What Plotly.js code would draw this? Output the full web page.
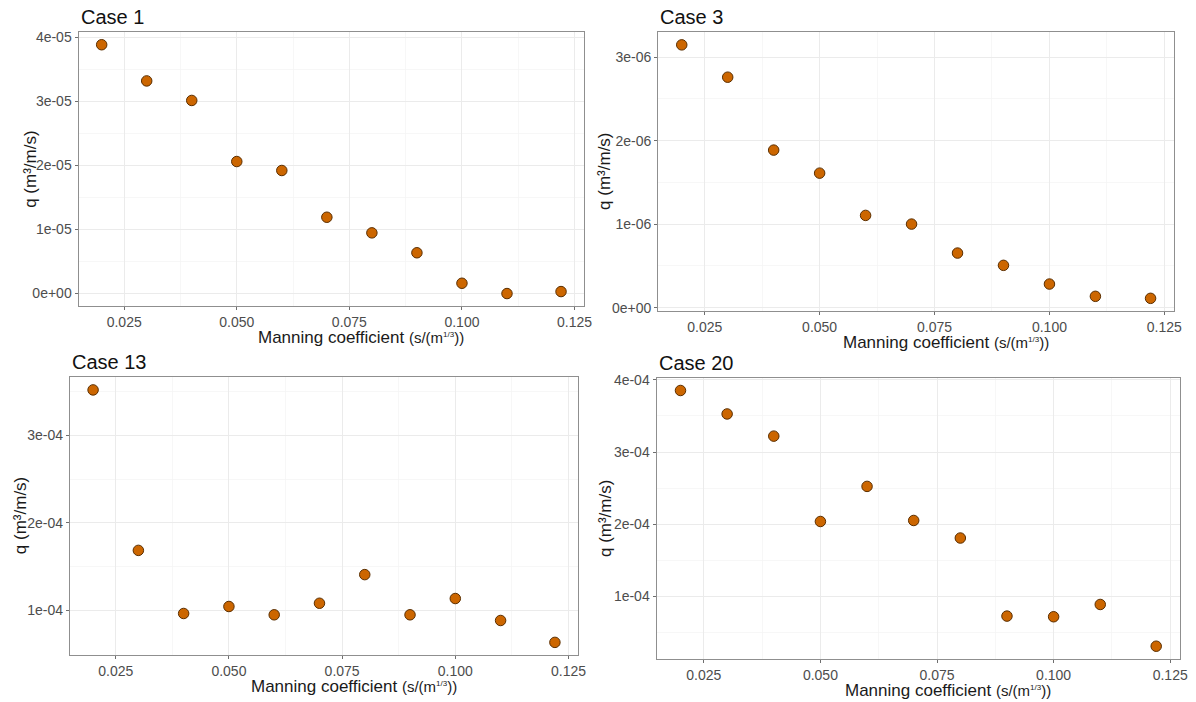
<!DOCTYPE html>
<html>
<head>
<meta charset="utf-8">
<script src="https://cdn.plot.ly/plotly-3.0.1.min.js"></script>
<style>
  html, body { margin: 0; padding: 0; background: #ffffff; }
  #chart { width: 1196px; height: 702px; }
</style>
</head>
<body>
<div id="chart"></div>
<script>
// Manning coefficient values tested in every case
const manning = [0.02, 0.03, 0.04, 0.05, 0.06, 0.07, 0.08, 0.09, 0.10, 0.11, 0.122];

// Unit discharge q (m³/m/s) for each case
const case1  = [3.886e-5, 3.321e-5, 3.016e-5, 2.062e-5, 1.922e-5, 1.192e-5, 0.948e-5, 0.637e-5, 0.161e-5, 0.0, 0.031e-5];
const case3  = [3.147e-6, 2.760e-6, 1.887e-6, 1.611e-6, 1.105e-6, 1.001e-6, 0.654e-6, 0.507e-6, 0.283e-6, 0.136e-6, 0.112e-6];
const case13 = [3.520e-4, 1.687e-4, 0.966e-4, 1.046e-4, 0.951e-4, 1.083e-4, 1.410e-4, 0.951e-4, 1.137e-4, 0.886e-4, 0.636e-4];
const case20 = [3.853e-4, 3.528e-4, 3.221e-4, 2.039e-4, 2.525e-4, 2.053e-4, 1.810e-4, 0.729e-4, 0.720e-4, 0.890e-4, 0.312e-4];

// Tick labels
const xTickVals = [0.025, 0.05, 0.075, 0.1, 0.125];
const xTickText = ["0.025", "0.050", "0.075", "0.100", "0.125"];
const case1TickVals  = [0, 1e-5, 2e-5, 3e-5, 4e-5];
const case1TickText  = ["0e+00", "1e-05", "2e-05", "3e-05", "4e-05"];
const case3TickVals  = [0, 1e-6, 2e-6, 3e-6];
const case3TickText  = ["0e+00", "1e-06", "2e-06", "3e-06"];
const case13TickVals = [1e-4, 2e-4, 3e-4];
const case13TickText = ["1e-04", "2e-04", "3e-04"];
const case20TickVals = [1e-4, 2e-4, 3e-4, 4e-4];
const case20TickText = ["1e-04", "2e-04", "3e-04", "4e-04"];

const caseTitles = ["Case 1", "Case 3", "Case 13", "Case 20"];

const W = 1196, H = 702;
const FONT = "Liberation Sans, Arial, sans-serif";

// Panel boxes in pixels: [left, right, top, bottom]
const boxes = [
  [78.7, 584, 32.3, 306],
  [658.3, 1174, 32.2, 311],
  [70, 578, 377.3, 655],
  [656.7, 1180, 377.7, 659]
];
// Horizontal offset of each y-axis title from the panel's left edge
const yTitleOffsets = [49, 54, 50, 51];

// Padded range (5% on each side) around the data
function padded(values) {
  const lo = Math.min(...values), hi = Math.max(...values);
  const pad = (hi - lo) * 0.05;
  return [lo - pad, hi + pad];
}

const series = [case1, case3, case13, case20];
const yTicks = [
  [case1TickVals, case1TickText, 5e-6],
  [case3TickVals, case3TickText, 5e-7],
  [case13TickVals, case13TickText, 5e-5],
  [case20TickVals, case20TickText, 5e-5]
];

const data = [];
const layout = {
  width: W, height: H,
  margin: {l: 0, r: 0, t: 0, b: 0},
  paper_bgcolor: "#ffffff",
  plot_bgcolor: "#ffffff",
  showlegend: false,
  font: {family: FONT, size: 14, color: "#4d4d4d"},
  annotations: []
};

const xRange = padded(manning);

series.forEach((ys, i) => {
  const n = i === 0 ? "" : String(i + 1);
  const [l, r, t, b] = boxes[i];
  data.push({
    type: "scatter", mode: "markers",
    x: manning, y: ys,
    xaxis: "x" + n, yaxis: "y" + n,
    marker: {size: 10.5, color: "#cc6600", line: {color: "#5a2e00", width: 1}},
    hoverinfo: "x+y"
  });

  const common = {
    showline: true, mirror: true, linecolor: "#8f8f8f", linewidth: 1.2,
    ticks: "outside", ticklen: 3, tickwidth: 1, tickcolor: "#6e6e6e",
    showgrid: true, gridcolor: "#ebebeb", gridwidth: 1,
    zeroline: false,
    tickfont: {family: FONT, size: 14, color: "#4d4d4d"}
  };

  layout["xaxis" + n] = Object.assign({}, common, {
    domain: [l / W, r / W],
    anchor: "y" + n,
    range: xRange,
    tickmode: "array", tickvals: xTickVals, ticktext: xTickText,
    minor: {tick0: 0.0125, dtick: 0.0125, showgrid: true, gridcolor: "#f3f3f3", gridwidth: 0.7, ticklen: 0}
  });
  layout["yaxis" + n] = Object.assign({}, common, {
    domain: [1 - b / H, 1 - t / H],
    anchor: "x" + n,
    range: padded(ys),
    tickmode: "array", tickvals: yTicks[i][0], ticktext: yTicks[i][1],
    minor: {tick0: 0, dtick: yTicks[i][2], showgrid: true, gridcolor: "#f3f3f3", gridwidth: 0.7, ticklen: 0}
  });

  // Case title, top-left above the panel
  layout.annotations.push({
    xref: "paper", yref: "paper",
    x: l / W, y: 1 - (t - 15) / H,
    xanchor: "left", yanchor: "middle",
    text: caseTitles[i], showarrow: false,
    font: {family: FONT, size: 20, color: "#111111"}
  });
  // x-axis title
  layout.annotations.push({
    xref: "paper", yref: "paper",
    x: ((l + r) / 2 + 30) / W, y: 1 - (b + 31) / H,
    xanchor: "center", yanchor: "middle",
    text: 'Manning coefficient <span style="font-size:15px">(s/(m<sup><span style="font-size:8px">1/3</span></sup>))</span>',
    showarrow: false,
    font: {family: FONT, size: 17, color: "#1a1a1a"}
  });
  // y-axis title
  layout.annotations.push({
    xref: "paper", yref: "paper",
    x: (l - yTitleOffsets[i]) / W, y: 1 - ((t + b) / 2) / H,
    xanchor: "center", yanchor: "middle",
    textangle: -90,
    text: "q (m³/m/s)", showarrow: false,
    font: {family: FONT, size: 17, color: "#1a1a1a"}
  });
});

Plotly.newPlot("chart", data, layout, {staticPlot: true, displayModeBar: false});
</script>
</body>
</html>
